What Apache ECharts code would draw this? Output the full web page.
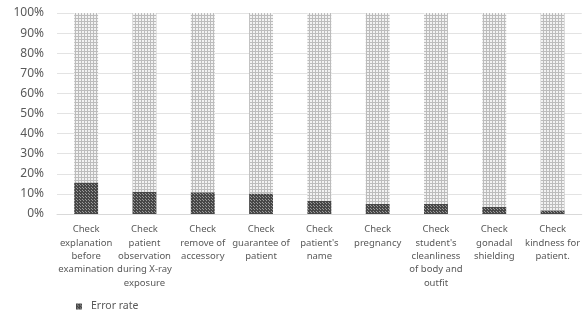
<!DOCTYPE html>
<html>
<head>
<meta charset="utf-8">
<script src="https://cdn.jsdelivr.net/npm/echarts@6/dist/echarts.min.js"></script>
<style>html,body{margin:0;padding:0;background:#fff;}#c{width:583px;height:327px;}</style>
</head>
<body>
<div id="c"></div>
<script>
var categories = [
  "Check\nexplanation\nbefore\nexamination",
  "Check\npatient\nobservation\nduring X-ray\nexposure",
  "Check\nremove of\naccessory",
  "Check\nguarantee of\npatient",
  "Check\npatient's\nname",
  "Check\npregnancy",
  "Check\nstudent's\ncleanliness\nof body and\noutfit",
  "Check\ngonadal\nshielding",
  "Check\nkindness for\npatient."
];
var errorRate = [15.7, 11.1, 10.8, 10.2, 6.6, 5.0, 5.0, 3.6, 1.8];
var correctRate = [84.3, 88.9, 89.2, 89.8, 93.4, 95.0, 95.0, 96.4, 98.2];
var yTicks = [0, 10, 20, 30, 40, 50, 60, 70, 80, 90, 100];

function makePattern(bg, fg, cells) {
  var c = document.createElement('canvas');
  c.width = 3; c.height = 3;
  var x = c.getContext('2d');
  x.fillStyle = bg; x.fillRect(0, 0, 3, 3);
  x.fillStyle = fg;
  cells.forEach(function (p) { x.fillRect(p[0], p[1], 1, 1); });
  return c;
}
var darkPat = makePattern('#474747', '#9a9a9a', [[1, 1], [2, 2]]);
var lightPat = makePattern('#f2f2f2', '#bcbcbc', [[0, 0], [1, 0], [2, 0], [0, 1], [0, 2]]);

var legendText = { fontSize: 10.5, color: '#595959', fontFamily: 'Noto Sans', padding: [0, 0, 0, 4] };
var chart = echarts.init(document.getElementById('c'));
chart.setOption({
  animation: false,
  textStyle: { fontFamily: 'Noto Sans' },
  grid: { left: 57, right: 0, top: 13, bottom: 113 },
  legend: [
    { left: 71, top: 296, itemWidth: 6, itemHeight: 6, icon: 'rect',
      textStyle: legendText, data: ['Error rate'] },
    { left: 71, top: 325, itemWidth: 6, itemHeight: 6, icon: 'rect',
      textStyle: legendText, data: ['Correct rate'] }
  ],
  xAxis: {
    type: 'category', data: categories,
    axisLine: { lineStyle: { color: '#d9d9d9' } },
    axisTick: { show: false },
    axisLabel: { interval: 0, fontSize: 9.5, color: '#595959', lineHeight: 13.3, margin: 9 }
  },
  yAxis: {
    type: 'value', min: 0, max: 100, interval: 10,
    axisLine: { show: false }, axisTick: { show: false },
    splitLine: { lineStyle: { color: '#e3e3e3' } },
    axisLabel: {
      fontSize: 12, color: '#595959', margin: 13,
      formatter: function (v) { return yTicks.indexOf(v) >= 0 ? v + '%' : ''; }
    }
  },
  series: [
    { name: 'Error rate', type: 'bar', stack: 's', barWidth: '41%', data: errorRate,
      itemStyle: { color: { image: darkPat, repeat: 'repeat' } } },
    { name: 'Correct rate', type: 'bar', stack: 's', barWidth: '41%', data: correctRate,
      itemStyle: { color: { image: lightPat, repeat: 'repeat' } } }
  ]
});
</script>
</body>
</html>
